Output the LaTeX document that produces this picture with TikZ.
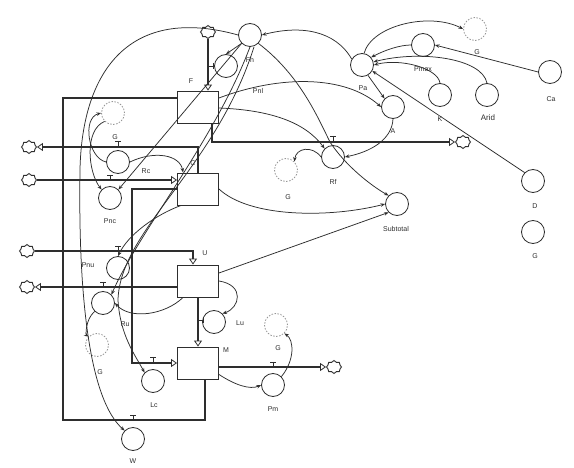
\documentclass[tikz,border=0pt]{standalone}
\usepackage{fontspec}
\setmainfont{Liberation Sans}
\usetikzlibrary{arrows.meta,shapes.symbols,calc}
\definecolor{ink}{HTML}{2E2E2E}
\begin{document}
\begin{tikzpicture}[x=1pt,y=-1pt,
  aux/.style={circle,draw=ink,line width=0.8pt,minimum size=23pt,inner sep=0pt},
  ghost/.style={aux,dash pattern=on 1.5pt off 1.5pt,draw=ink!50},
  stockbox/.style={draw=ink,line width=0.9pt,minimum width=41pt,minimum height=32pt,inner sep=0pt},
  sky/.style={cloud,cloud puffs=8,draw=ink,line width=0.9pt,minimum width=15pt,minimum height=13pt,inner sep=0pt},
  flow/.style={draw=ink,line width=1.7pt},
  flowtip/.style={-{Triangle[open,length=6pt,width=8pt,line width=0.8pt]}},
  conn/.style={draw=ink,line width=0.75pt,-{Stealth[length=4.5pt,width=3.5pt]}},
  lbl/.style={font=\fontsize{7}{8}\selectfont,inner sep=0pt,text=ink},
  valveh/.pic={\draw[ink,line width=0.8pt] (-3,-5)--(3,-5) (0,-5)--(0,0);},
  valvev/.pic={\draw[ink,line width=0.8pt] (5,-3)--(5,3) (5,0)--(0,0);},
]
\useasboundingbox[fill=white] (0,0) rectangle (574,468);

% stocks
\node[stockbox] (F) at (198,107) {};
\node[stockbox] (C) at (198,189) {};
\node[stockbox] (U) at (198,281) {};
\node[stockbox] (M) at (198,363) {};

% auxiliaries
\node[aux] (topc) at (250,35) {};
\node[aux] (Fh) at (226,66) {};
\node[aux] (Rc) at (118,162) {};
\node[aux] (Pnc) at (110,198) {};
\node[aux] (Pnu) at (118,268) {};
\node[aux] (Ru) at (103,303) {};
\node[aux] (Lu) at (214,322) {};
\node[aux] (Lc) at (153,381) {};
\node[aux] (W) at (133,439) {};
\node[aux] (Pm) at (273,385) {};
\node[aux] (Pa) at (362,65) {};
\node[aux] (Pmax) at (423,45) {};
\node[aux] (K) at (440,95) {};
\node[aux] (Arid) at (487,95) {};
\node[aux] (Ca) at (550,72) {};
\node[aux] (A) at (393,107) {};
\node[aux] (Rf) at (333,157) {};
\node[aux] (Sub) at (397,204) {};
\node[aux] (D) at (533,181) {};
\node[aux] (Gr) at (533,232) {};

% ghosts
\node[ghost] (g1) at (113,113) {};
\node[ghost] (g2) at (286,170) {};
\node[ghost] (g3) at (97,345) {};
\node[ghost] (g4) at (276,325) {};
\node[ghost] (g5) at (475,29) {};

% clouds
\node[sky] (c1) at (208,32) {};
\node[sky] (c2) at (29,147) {};
\node[sky] (c3) at (29,180) {};
\node[sky] (c4) at (27,251) {};
\node[sky] (c5) at (27,287) {};
\node[sky] (c6) at (463,142) {};
\node[sky] (c7) at (334,367) {};

% helper coordinates
\coordinate (lp1) at (63,98);
\coordinate (lp2) at (63,420);
\coordinate (lp3) at (205,420);
\coordinate (uo) at ($(U.west)+(0,6)$);
\coordinate (fo) at ($(F.south)+(14,0)$);
\coordinate (ui) at ($(U.north)+(-5,0)$);
\coordinate (mo) at ($(M.east)+(0,4)$);
\coordinate (fl) at ($(F.west)+(0,-9)$);

% flows
\draw[flow,flowtip] (c1.south) -- (c1.south |- F.north);
\draw[flow,flowtip] (C.north) |- (c2.east);
\draw[flow,flowtip] (fo) |- (c6.west);
\draw[flow,flowtip] (c3.east) -- (c3.east -| C.west);
\draw[flow,flowtip] (C.west) -- ++(-45,0) |- (M.west);
\draw[flow,flowtip] (c4.east) -| (ui);
\draw[flow,flowtip] (uo) -- (uo -| c5.east);
\draw[flow,flowtip] (U.south) -- (M.north);
\draw[flow,flowtip] (mo) -- (mo -| c7.west);
\draw[flow] (fl) -- (lp1) -- (lp2) -- (lp3) -- (lp3 |- M.south);

% valves
\pic at (118,146) {valveh};
\pic at (110,180) {valveh};
\pic at (118,251) {valveh};
\pic at (103,287) {valveh};
\pic at (153,362) {valveh};
\pic at (273,367) {valveh};
\pic at (133,420) {valveh};
\pic at (333,141) {valveh};
\pic at (208,66) {valvev};
\pic at (198,320) {valvev};

% connectors
\draw[conn] (Pa.150) .. controls (335,30) and (300,25) .. (topc.east);
\draw[conn] (topc.west) .. controls (130,5) and (82,70) .. (80,170) .. controls (78,300) and (90,400) .. (W.north west);
\draw[conn] (topc.south west) -- (Pnc.north east);
\draw[conn] (topc.south) .. controls (215,140) and (140,230) .. (Ru.north east);
\draw[conn] ($(topc.south)+(4,0)$) .. controls (215,170) and (120,230) .. (118,300) .. controls (120,335) and (135,355) .. (Lc.north west);
\draw[conn] (topc.225) -- (Fh.north);
\draw[conn] ($(F.east)+(0,-9)$) .. controls (280,75) and (345,75) .. (A.west);
\draw[conn] ($(F.east)+(0,1)$) .. controls (270,110) and (305,122) .. (Rf.north west);
\draw[conn] (topc.south east) .. controls (300,75) and (318,118) .. (330,142) .. controls (345,165) and (370,185) .. (Sub.north west);
\draw[conn] (A.south) .. controls (392,140) and (370,152) .. (Rf.east);
\draw[conn] (Rf.west) .. controls (312,145) and (296,148) .. (g2.north east);
\draw[conn] (Pa.-60) -- (A.north west);
\draw[conn] (Pmax.west) .. controls (400,45) and (385,50) .. (Pa.40);
\draw[conn] (Pa.80) .. controls (372,25) and (430,12) .. (g5.west);
\draw[conn] (Ca.west) -- (Pmax.east);
\draw[conn] (K.north) .. controls (438,68) and (400,58) .. (Pa.0);
\draw[conn] (Arid.north) .. controls (482,58) and (420,50) .. (Pa.15);
\draw[conn] (D.north west) -- (Pa.-30);
\draw[conn] (C.east) .. controls (250,218) and (330,218) .. (Sub.west);
\draw[conn] ($(U.east)+(0,-8)$) -- (Sub.south west);
\draw[conn] (U.east) .. controls (245,285) and (240,308) .. (Lu.north east);
\draw[conn] ($(U.south west)+(6,0)$) .. controls (165,315) and (130,320) .. (Ru.east);
\draw[conn] ($(C.south west)+(4,0)$) .. controls (155,215) and (128,235) .. (Pnu.north);
\draw[conn] (Rc.east) .. controls (155,150) and (180,155) .. ($(C.north west)+(6,0)$);
\draw[conn] (Rc.west) .. controls (88,158) and (82,118) .. (g1.west);
\draw[conn] (g1.south west) .. controls (84,130) and (88,172) .. (Pnc.north west);
\draw[conn] (Ru.south west) .. controls (85,320) and (86,335) .. (g3.north west);
\draw[conn] ($(M.south east)+(0,-5)$) .. controls (235,385) and (250,390) .. (Pm.west);
\draw[conn] (Pm.north east) .. controls (295,360) and (294,340) .. (g4.south east);

% labels
\node[lbl] (tF) at (191,81) {F};
\node[lbl] (tC) at (193,163) {C};
\node[lbl] (tU) at (205,253) {U};
\node[lbl] (tM) at (226,350) {M};
\node[lbl] (tFh) at (250,60) {Fh};
\node[lbl] (tPnl) at (258,91) {Pnl};
\node[lbl] (tRc) at (146,171) {Rc};
\node[lbl] (tPnc) at (110,221) {Pnc};
\node[lbl] (tPnu) at (88,265) {Pnu};
\node[lbl] (tRu) at (125,324) {Ru};
\node[lbl] (tLu) at (240,323) {Lu};
\node[lbl] (tLc) at (154,405) {Lc};
\node[lbl] (tW) at (133,461) {W};
\node[lbl] (tPm) at (273,409) {Pm};
\node[lbl] (tPa) at (363,88) {Pa};
\node[lbl] (tPmax) at (423,69) {Pmax};
\node[lbl] (tK) at (440,119) {K};
\node[lbl,font=\fontsize{8}{9}\selectfont] (tArid) at (488,118) {Arid};
\node[lbl] (tCa) at (551,99) {Ca};
\node[lbl] (tA) at (393,131) {A};
\node[lbl] (tRf) at (333,182) {Rf};
\node[lbl] (tSub) at (396,229) {Subtotal};
\node[lbl] (tD) at (535,206) {D};
\node[lbl] (tG) at (535,256) {G};
\node[lbl] (tg1) at (115,137) {G};
\node[lbl] (tg2) at (288,197) {G};
\node[lbl] (tg3) at (100,372) {G};
\node[lbl] (tg4) at (278,348) {G};
\node[lbl] (tg5) at (477,52) {G};
\end{tikzpicture}
\end{document}
